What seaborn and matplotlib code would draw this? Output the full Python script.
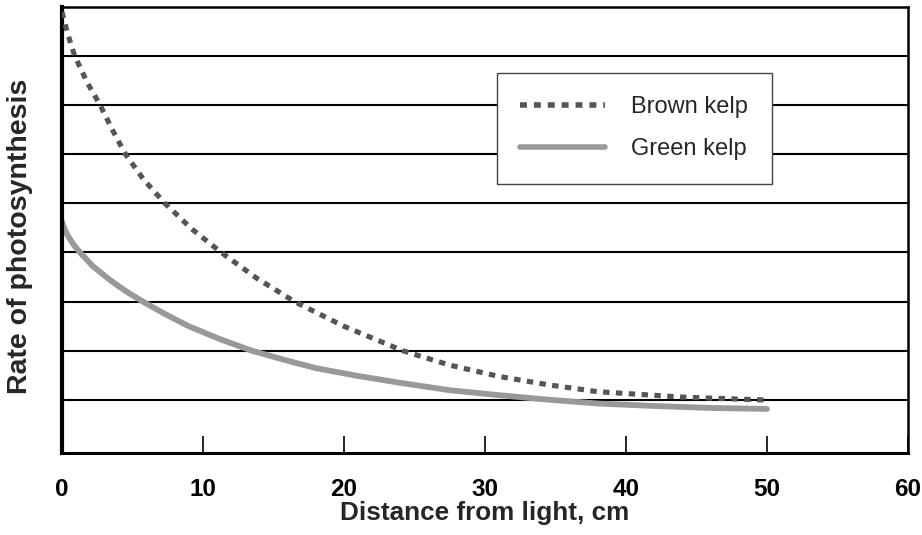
import pandas as pd
import matplotlib.pyplot as plt
import seaborn as sns

# Values (y axis has no units)
brown_x = [0, 0.4, 0.9, 1.8, 2.7, 3.6, 4.5, 5.8, 7.3, 9.2, 11.3, 13.8, 16.5, 20, 24.2, 27.5, 31, 34.5, 38, 44, 50]
brown_y = [8.89, 8.45, 8.0, 7.45, 7.0, 6.48, 6.0, 5.48, 5.0, 4.48, 4.0, 3.48, 3.0, 2.5, 2.0, 1.71, 1.48, 1.31, 1.17, 1.06, 1.0]

green_x = [0, 0.15, 0.4, 0.8, 1.28, 2.2, 3.5, 4.6, 5.75, 7.3, 9, 11.2, 13.5, 16, 18, 21, 24, 27.5, 31, 34, 38, 42, 46, 50]
green_y = [4.63, 4.5, 4.35, 4.17, 4.0, 3.72, 3.42, 3.2, 3.0, 2.75, 2.5, 2.24, 2.0, 1.8, 1.65, 1.49, 1.35, 1.2, 1.1, 1.02, 0.93, 0.88, 0.84, 0.82]

x_ticks = [0, 10, 20, 30, 40, 50, 60]
grid_levels = [1, 2, 3, 4, 5, 6, 7, 8]

brown = pd.DataFrame({'distance': brown_x, 'rate': brown_y})
green = pd.DataFrame({'distance': green_x, 'rate': green_y})

sns.set_style('white')
plt.rcParams['font.family'] = ['Liberation Sans', 'DejaVu Sans']

fig = plt.figure(figsize=(9.22, 5.35), dpi=100)
ax = fig.add_axes([0.0672, 0.1538, 0.9176, 0.8331])

# horizontal rules
for lvl in grid_levels:
    ax.axhline(lvl, color='black', lw=1.5, zorder=1)

sns.lineplot(data=brown, x='distance', y='rate', ax=ax, color='#555555',
             label='Brown kelp', zorder=3)
bl = ax.lines[-1]
bl.set_linewidth(3.7)
bl.set_linestyle((0, (1.25, 1.25)))
bl.set_dash_capstyle('butt')

sns.lineplot(data=green, x='distance', y='rate', ax=ax, color='#999999',
             label='Green kelp', zorder=2)
gl = ax.lines[-1]
gl.set_linewidth(4.2)
gl.set_solid_capstyle('round')
gl.set_solid_joinstyle('round')

ax.set_xlim(0, 60)
ax.set_ylim(-0.07, 8.99)
ax.set_xticks(x_ticks)
ax.set_yticks([])
ax.tick_params(axis='x', bottom=True, direction='in', length=12, width=1.2,
               pad=18, labelsize=17.5, colors='black')
for lab in ax.get_xticklabels():
    lab.set_fontweight('bold')

ax.set_xlabel('Distance from light, cm', fontsize=18.8, fontweight='bold', labelpad=0)
ax.set_ylabel('Rate of photosynthesis', fontsize=20.5, fontweight='bold')
ax.yaxis.set_label_coords(-0.034, 0.486)

for side, w in [('left', 3.0), ('bottom', 2.2), ('top', 1.8), ('right', 1.8)]:
    ax.spines[side].set_visible(True)
    ax.spines[side].set_color('black')
    ax.spines[side].set_linewidth(w)

leg = ax.legend(loc='upper right', bbox_to_anchor=(0.853, 0.879), fontsize=17,
                frameon=True, fancybox=False, framealpha=1, edgecolor='#444444',
                handlelength=3.6, handletextpad=1.1, borderpad=1.0,
                labelspacing=0.85)
leg.get_frame().set_linewidth(1.0)
for h in leg.get_lines():
    h.set_linewidth(4.0)

fig.savefig('out.png', dpi=100)
